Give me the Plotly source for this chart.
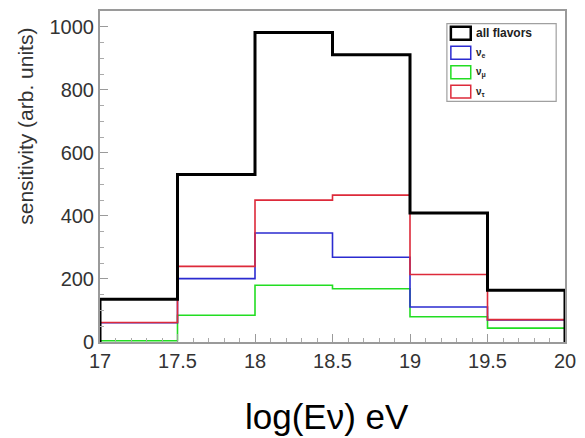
import plotly.graph_objects as go

# Bin edges (log10 of neutrino energy, eV)
bin_edges = [17.0, 17.5, 18.0, 18.5, 19.0, 19.5, 20.0]

# Sensitivity per bin (arb. units)
all_flavors = [136, 531, 982, 911, 409, 164]
nu_e = [61, 201, 346, 269, 111, 70]
nu_mu = [4, 85, 180, 169, 80, 44]
nu_tau = [62, 240, 450, 466, 214, 71]

series_names = ["all flavors", "ν<sub>e</sub>", "ν<sub>μ</sub>", "ν<sub>τ</sub>"]
series_values = [all_flavors, nu_e, nu_mu, nu_tau]
series_colors = ["#000000", "#2b2bd0", "#22dd22", "#dd2a3a"]
series_widths = [3, 1.6, 1.6, 1.6]


def step_xy(edges, vals):
    xs, ys = [edges[0]], [0]
    for i, v in enumerate(vals):
        xs += [edges[i], edges[i + 1]]
        ys += [v, v]
    xs.append(edges[-1])
    ys.append(0)
    return xs, ys


fig = go.Figure()
order = [2, 1, 3, 0]
for i in order:
    xs, ys = step_xy(bin_edges, series_values[i])
    fig.add_trace(go.Scatter(
        x=xs, y=ys, mode="lines",
        line=dict(color=series_colors[i], width=series_widths[i]),
        showlegend=False, hoverinfo="skip",
    ))

axis_common = dict(
    showline=True, linecolor="#9a9a9a", linewidth=2, mirror=True,
    ticks="inside", tickcolor="#9a9a9a", ticklen=8, tickwidth=1,
    showgrid=False, zeroline=False,
    tickfont=dict(family="Liberation Sans, Arial", size=20, color="#333333"),
)

fig.update_xaxes(
    range=[17, 20], tickvals=[17, 17.5, 18, 18.5, 19, 19.5, 20],
    ticktext=["17", "17.5", "18", "18.5", "19", "19.5", "20"],
    minor=dict(dtick=0.1, ticks="inside", ticklen=4, tickcolor="#aaaaaa"),
    **axis_common,
)
fig.update_yaxes(
    range=[0, 1050], tickvals=[0, 200, 400, 600, 800, 1000],
    minor=dict(dtick=50, ticks="inside", ticklen=4, tickcolor="#aaaaaa"),
    **axis_common,
)

# Manual legend (box-style entries like ROOT)
L, R, T, B = 0.746, 0.981, 0.962, 0.727
fig.add_shape(type="rect", xref="paper", yref="paper", x0=L, x1=R, y0=B, y1=T,
              line=dict(color="#a0a0a0", width=1.2), fillcolor="white", layer="above")
row_h = (T - B) / 4
sq_w = 20 / 468
sq_h = 13 / 333
x_sq0 = L + 4 / 468
for k, idx in enumerate([0, 1, 2, 3]):
    yc = T - row_h * (k + 0.5)
    fig.add_shape(type="rect", xref="paper", yref="paper",
                  x0=x_sq0, x1=x_sq0 + sq_w, y0=yc - sq_h / 2, y1=yc + sq_h / 2,
                  line=dict(color=series_colors[idx], width=2.5 if idx == 0 else 1.5),
                  fillcolor="white", layer="above")
    txt = "<b>all flavors</b>" if idx == 0 else "<b>" + series_names[idx] + "</b>"
    fig.add_annotation(xref="paper", yref="paper", x=x_sq0 + sq_w + 3 / 468, y=yc,
                       text=txt, showarrow=False, xanchor="left", yanchor="middle",
                       font=dict(family="Liberation Sans, Arial",
                                 size=12 if idx == 0 else 10, color="#222222"))

# Axis titles
fig.add_annotation(xref="paper", yref="paper", x=(328 - 100) / 468, y=-(417 - 342) / 333,
                   text="log(Eν) eV", showarrow=False, xanchor="center", yanchor="middle",
                   font=dict(family="Liberation Sans, Arial", size=35, color="#000000"))
fig.add_annotation(xref="paper", yref="paper", x=-(100 - 25) / 468, y=(342 - 125) / 333,
                   text="sensitivity (arb. units)", showarrow=False, textangle=-90,
                   xanchor="center", yanchor="middle",
                   font=dict(family="Liberation Sans, Arial", size=21, color="#333333"))

fig.update_layout(
    width=585, height=438,
    margin=dict(l=100, r=17, t=9, b=96),
    paper_bgcolor="white", plot_bgcolor="white",
    showlegend=False,
)

fig.write_html("out.html")
